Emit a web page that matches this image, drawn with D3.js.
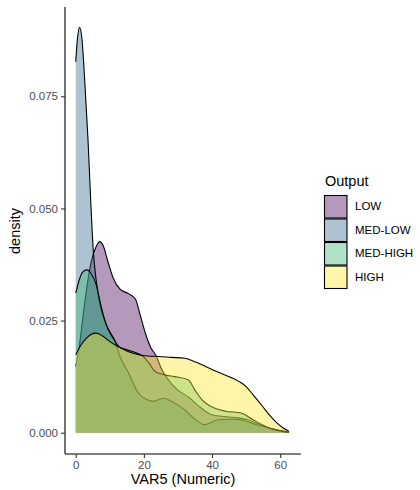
<!DOCTYPE html>
<html>
<head>
<meta charset="utf-8">
<script src="https://cdn.jsdelivr.net/npm/d3@7/dist/d3.min.js"></script>
<style>
  html, body { margin: 0; padding: 0; background: #fff; }
  svg { display: block; font-family: "Liberation Sans", Arial, Helvetica, sans-serif; }
</style>
</head>
<body>
<svg id="chart" width="420" height="490"></svg>
<script>
// Output groups, in drawing order
const groups = ["LOW", "MED-LOW", "MED-HIGH", "HIGH"];
const groupColors = ["#440154", "#31688E", "#35B779", "#FDE725"];

// Kernel density estimates of VAR5 per group: [VAR5, density]
const densLow = [
  [0, 0.0148], [1, 0.019], [2, 0.025], [3, 0.031], [4.5, 0.038], [6, 0.0415],
  [7, 0.0426], [8, 0.0418], [9.5, 0.038], [11, 0.0345], [13, 0.032], [15.5, 0.031],
  [17.5, 0.0298], [19, 0.026], [20.5, 0.022], [22, 0.019], [23.7, 0.017], [25, 0.0145],
  [26.5, 0.0125], [28, 0.011], [30, 0.0095], [33, 0.008], [36, 0.006], [40, 0.004],
  [45, 0.0035], [50, 0.003], [55, 0.0015], [60, 0.0004], [62.5, 0.0001]
];
const densMedLow = [
  [0, 0.0827], [0.5, 0.0878], [1.1, 0.0904], [1.8, 0.088], [2.6, 0.079], [3.6, 0.0653],
  [4.5, 0.05], [5.2, 0.04], [6, 0.034], [7, 0.029], [8.5, 0.025], [10, 0.0225],
  [11.5, 0.0205], [13, 0.017], [15.5, 0.0133], [18.4, 0.0088], [20.8, 0.0074],
  [22.7, 0.007], [25.7, 0.0077], [29, 0.0066], [32, 0.0051], [35, 0.003], [37.8, 0.0018],
  [40, 0.0024], [41.7, 0.0029], [45, 0.003], [48.5, 0.0029], [52, 0.002], [57, 0.001],
  [62, 0.0002]
];
const densMedHigh = [
  [0, 0.0311], [1, 0.034], [2, 0.0358], [3.3, 0.0363], [4.5, 0.0355], [6, 0.033],
  [7.5, 0.028], [9, 0.024], [11, 0.021], [13, 0.019], [15, 0.0185], [17, 0.018],
  [19.8, 0.017], [21.5, 0.0155], [23.2, 0.0137], [26, 0.0129], [29, 0.0125], [33, 0.0118],
  [35, 0.0095], [37, 0.0074], [40.7, 0.0055], [44, 0.0048], [48.5, 0.0044], [52, 0.0029],
  [57, 0.001], [62.6, 0.0001]
];
const densHigh = [
  [0, 0.0174], [1.5, 0.0195], [3, 0.021], [4.5, 0.0219], [6, 0.0222], [8, 0.0215],
  [10, 0.0203], [12.5, 0.0192], [15, 0.0182], [18.4, 0.0174], [21, 0.0171], [24.2, 0.017],
  [28, 0.0168], [32, 0.0166], [35, 0.0158], [38, 0.0148], [41.2, 0.0137], [45, 0.0125],
  [48, 0.0114], [50, 0.0103], [52, 0.0085], [54.8, 0.0059], [57, 0.0038], [59, 0.0022],
  [61, 0.001], [62.6, 0.0003]
];
const groupDensities = [densLow, densMedLow, densMedHigh, densHigh];

const xTicks = [0, 20, 40, 60];
const yTicks = [0, 0.025, 0.05, 0.075];

(function draw() {
  const svg = d3.select("#chart");

  // panel geometry
  const panelLeft = 65, panelRight = 301, panelTop = 7, panelBottom = 454;

  const x = d3.scaleLinear().domain([-3.15, 66.1]).range([panelLeft, panelRight]);
  const y = d3.scaleLinear().domain([-0.00474, 0.0949]).range([panelBottom, panelTop]);

  const area = d3.area()
    .x(d => x(d[0]))
    .y0(y(0))
    .y1(d => y(d[1]))
    .curve(d3.curveMonotoneX);

  const line = d3.line()
    .x(d => x(d[0]))
    .y(d => y(d[1]))
    .curve(d3.curveMonotoneX);

  const fillAlpha = 0.4;

  // each group: translucent fill followed by its outline
  groups.forEach((g, i) => {
    const layer = svg.append("g").attr("class", "density");
    layer.append("path")
      .datum(groupDensities[i])
      .attr("d", area)
      .attr("fill", groupColors[i])
      .attr("fill-opacity", fillAlpha);
    layer.append("path")
      .datum(groupDensities[i])
      .attr("d", line)
      .attr("fill", "none")
      .attr("stroke", "#000")
      .attr("stroke-width", 1.1);
  });

  // axes
  const xAxis = d3.axisBottom(x).tickValues(xTicks).tickSize(4).tickPadding(3).tickSizeOuter(0);
  const yAxis = d3.axisLeft(y).tickValues(yTicks).tickSize(4).tickPadding(3).tickSizeOuter(0)
    .tickFormat(d3.format(".3f"));

  const gx = svg.append("g").attr("transform", `translate(0,${panelBottom})`).call(xAxis);
  const gy = svg.append("g").attr("transform", `translate(${panelLeft},0)`).call(yAxis);

  [gx, gy].forEach(ax => {
    ax.select(".domain").attr("stroke", "#000").attr("stroke-width", 1.1);
    ax.selectAll(".tick line").attr("stroke", "#333").attr("stroke-width", 1.1);
    ax.selectAll(".tick text").attr("fill", "#4d4d4d").style("font-size", "11.5px")
      .style("font-family", "'Liberation Sans', Arial, sans-serif");
  });
  // axis lines spanning the full panel
  gx.select(".domain").attr("d", `M${panelLeft},0H${panelRight}`);
  gy.select(".domain").attr("d", `M0,${panelTop}V${panelBottom}`);

  // axis titles
  svg.append("text")
    .attr("x", (panelLeft + panelRight) / 2).attr("y", 484)
    .attr("text-anchor", "middle")
    .style("font-size", "14.5px").attr("fill", "#000")
    .text("VAR5 (Numeric)");

  svg.append("text")
    .attr("transform", "translate(20,231) rotate(-90)")
    .attr("text-anchor", "middle")
    .style("font-size", "14.5px").attr("fill", "#000")
    .text("density");

  // legend
  const legend = svg.append("g").attr("transform", "translate(324,0)");
  legend.append("text")
    .attr("x", 1).attr("y", 186)
    .style("font-size", "14.5px").attr("fill", "#000")
    .text("Output");

  const keySize = 22.5, keyTop = 195;
  groups.forEach((g, i) => {
    const ky = keyTop + i * 23.5;
    legend.append("rect")
      .attr("x", 0.5).attr("y", ky + 0.5)
      .attr("width", keySize).attr("height", keySize)
      .attr("fill", groupColors[i]).attr("fill-opacity", fillAlpha)
      .attr("stroke", "#000").attr("stroke-width", 1.1);
    legend.append("text")
      .attr("x", 31).attr("y", ky + keySize / 2 + 1)
      .attr("dominant-baseline", "middle")
      .style("font-size", "11.5px").attr("fill", "#000")
      .text(g);
  });
})();
</script>
</body>
</html>
